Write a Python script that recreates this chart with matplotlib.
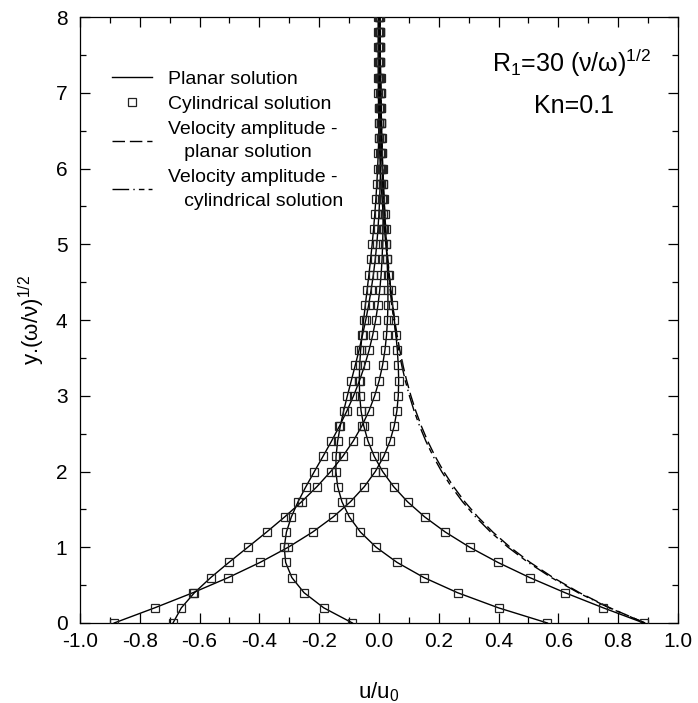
import matplotlib
matplotlib.use("Agg")
import matplotlib.pyplot as plt
from matplotlib.ticker import MultipleLocator, FormatStrFormatter
from matplotlib.lines import Line2D

plt.rcParams['font.family'] = ['Liberation Sans', 'DejaVu Sans']
plt.rcParams['mathtext.fontset'] = 'custom'
plt.rcParams['mathtext.rm'] = 'Liberation Sans'
plt.rcParams['mathtext.it'] = 'Liberation Sans:italic'
plt.rcParams['axes.unicode_minus'] = False

# Dimensionless distance from the wall, y.(omega/nu)^1/2
y_levels = [0.0, 0.2, 0.4, 0.6, 0.8, 1.0, 1.2, 1.4, 1.6, 1.8,
            2.0, 2.2, 2.4, 2.6, 2.8, 3.0, 3.2, 3.4, 3.6, 3.8,
            4.0, 4.2, 4.4, 4.6, 4.8, 5.0, 5.2, 5.4, 5.6, 5.8,
            6.0, 6.2, 6.4, 6.6, 6.8, 7.0, 7.2, 7.4, 7.6, 7.8, 8.0]

# Velocity profiles u/u0 at five instants of the oscillation period
u_phase1 = [0.8856, 0.7502, 0.6221, 0.5040, 0.3976, 0.3035, 0.2221, 0.1530, 0.0956, 0.0490,
            0.0122, -0.0159, -0.0366, -0.0509, -0.0599, -0.0646, -0.0659, -0.0646, -0.0614, -0.0568,
            -0.0514, -0.0456, -0.0396, -0.0336, -0.0281, -0.0228, -0.0181, -0.0140, -0.0103, -0.0072,
            -0.0046, -0.0025, -0.0008, 0.0005, 0.0014, 0.0021, 0.0025, 0.0028, 0.0028, 0.0028, 0.0027]
u_phase2 = [0.5634, 0.3998, 0.2627, 0.1503, 0.0604, -0.0095, -0.0619, -0.0991, -0.1238, -0.1382,
            -0.1441, -0.1436, -0.1383, -0.1294, -0.1182, -0.1057, -0.0926, -0.0795, -0.0669, -0.0551,
            -0.0442, -0.0345, -0.0261, -0.0187, -0.0125, -0.0074, -0.0034, -0.0002, 0.0023, 0.0040,
            0.0052, 0.0059, 0.0062, 0.0063, 0.0061, 0.0057, 0.0052, 0.0047, 0.0041, 0.0036, 0.0030]
u_phase3 = [-0.0888, -0.1847, -0.2506, -0.2915, -0.3122, -0.3169, -0.3096, -0.2932, -0.2707, -0.2444,
            -0.2161, -0.1872, -0.1589, -0.1321, -0.1073, -0.0849, -0.0651, -0.0479, -0.0332, -0.0210,
            -0.0111, -0.0033, 0.0028, 0.0072, 0.0103, 0.0123, 0.0134, 0.0137, 0.0135, 0.0128,
            0.0119, 0.0108, 0.0096, 0.0084, 0.0072, 0.0059, 0.0049, 0.0039, 0.0030, 0.0022, 0.0016]
u_phase4 = [-0.6890, -0.6611, -0.6171, -0.5626, -0.5019, -0.4387, -0.3759, -0.3155, -0.2590, -0.2075,
            -0.1614, -0.1211, -0.0865, -0.0574, -0.0335, -0.0144, 0.0006, 0.0119, 0.0199, 0.0253,
            0.0285, 0.0299, 0.0300, 0.0289, 0.0271, 0.0248, 0.0223, 0.0196, 0.0169, 0.0142,
            0.0117, 0.0094, 0.0074, 0.0056, 0.0041, 0.0027, 0.0017, 0.0008, 0.0001, -0.0004, -0.0008]
u_phase5 = [-0.8856, -0.7502, -0.6221, -0.5040, -0.3976, -0.3035, -0.2221, -0.1530, -0.0956, -0.0490,
            -0.0122, 0.0159, 0.0366, 0.0509, 0.0599, 0.0646, 0.0659, 0.0646, 0.0614, 0.0568,
            0.0514, 0.0456, 0.0396, 0.0336, 0.0281, 0.0228, 0.0181, 0.0140, 0.0103, 0.0072,
            0.0046, 0.0025, 0.0008, -0.0005, -0.0014, -0.0021, -0.0025, -0.0028, -0.0028, -0.0028, -0.0027]

# Velocity amplitude envelopes
amp_planar = [0.8900, 0.7726, 0.6707, 0.5823, 0.5055, 0.4388, 0.3810, 0.3307, 0.2871, 0.2493,
              0.2164, 0.1879, 0.1631, 0.1416, 0.1229, 0.1067, 0.0926, 0.0804, 0.0698, 0.0606,
              0.0526, 0.0457, 0.0397, 0.0344, 0.0299, 0.0259, 0.0225, 0.0196, 0.0170, 0.0147,
              0.0128, 0.0111, 0.0096, 0.0084, 0.0073, 0.0063, 0.0055, 0.0048, 0.0041, 0.0036, 0.0031]
amp_cylindrical = [0.8900, 0.7700, 0.6663, 0.5766, 0.4989, 0.4317, 0.3736, 0.3232, 0.2797, 0.2421,
                   0.2095, 0.1814, 0.1569, 0.1358, 0.1175, 0.1017, 0.0880, 0.0762, 0.0660, 0.0571,
                   0.0494, 0.0428, 0.0371, 0.0320, 0.0278, 0.0240, 0.0208, 0.0180, 0.0156, 0.0135,
                   0.0117, 0.0101, 0.0087, 0.0076, 0.0066, 0.0057, 0.0049, 0.0043, 0.0037, 0.0032, 0.0028]

profiles = [u_phase1, u_phase2, u_phase3, u_phase4, u_phase5]

fig = plt.figure(figsize=(6.98, 7.03), dpi=100)
ax = fig.add_axes([0.1146, 0.1138, 0.8567, 0.862])

dash_long = (0, (9, 3.5))
dash_dot = (0, (12, 3, 1, 3, 4, 3))

for u in profiles:
    ax.plot(u, y_levels, color='black', lw=1.0, zorder=3)
    ax.plot(u, y_levels, linestyle='none', marker='s', markersize=5.2,
            markerfacecolor='none', markeredgecolor='#222222', markeredgewidth=0.9, zorder=4)

ax.plot(amp_planar, y_levels, color='black', lw=1.0, linestyle=dash_long, zorder=2)
ax.plot(amp_cylindrical, y_levels, color='black', lw=1.0, linestyle=dash_dot, zorder=2)

ax.set_xlim(-1.0, 1.0)
ax.set_ylim(0, 8)
ax.xaxis.set_major_locator(MultipleLocator(0.2))
ax.xaxis.set_minor_locator(MultipleLocator(0.1))
ax.xaxis.set_major_formatter(FormatStrFormatter('%.1f'))
ax.yaxis.set_major_locator(MultipleLocator(1))
ax.yaxis.set_minor_locator(MultipleLocator(0.5))
ax.tick_params(which='both', direction='in', top=True, right=True, width=0.9, labelsize=15)
ax.tick_params(which='major', length=7)
ax.tick_params(which='minor', length=4)
ax.tick_params(axis='x', which='major', pad=6.5)
ax.tick_params(axis='y', which='major', pad=9)
for sp in ax.spines.values():
    sp.set_linewidth(0.9)

ax.set_xlabel('u/u$_0$', fontsize=16, labelpad=21)
ax.set_ylabel('y.(ω/ν)$^{1/2}$', fontsize=16, labelpad=6)

ax.text(0.645, 7.27, 'R$_1$=30 (ν/ω)$^{1/2}$', fontsize=18, ha='center', va='baseline')
ax.text(0.652, 6.73, 'Kn=0.1', fontsize=18, ha='center', va='baseline')

handles = [
    Line2D([], [], color='black', lw=1.0),
    Line2D([], [], linestyle='none', marker='s', markersize=5.2, markerfacecolor='none',
           markeredgecolor='#222222', markeredgewidth=0.9),
    Line2D([], [], color='black', lw=1.0, linestyle=dash_long),
    Line2D([], [], color='black', lw=1.0, linestyle=dash_dot),
]
labels = [
    'Planar solution',
    'Cylindrical solution',
    'Velocity amplitude -\n   planar solution',
    'Velocity amplitude -\n   cylindrical solution',
]
leg = ax.legend(handles, labels, loc='upper left', bbox_to_anchor=(0.03, 0.935), frameon=False,
                fontsize=14, handlelength=2.1, handletextpad=0.8, labelspacing=0.4, borderpad=0.2)
for t in leg.get_texts():
    t.set_linespacing(1.5)

fig.savefig('out.png', dpi=100)
